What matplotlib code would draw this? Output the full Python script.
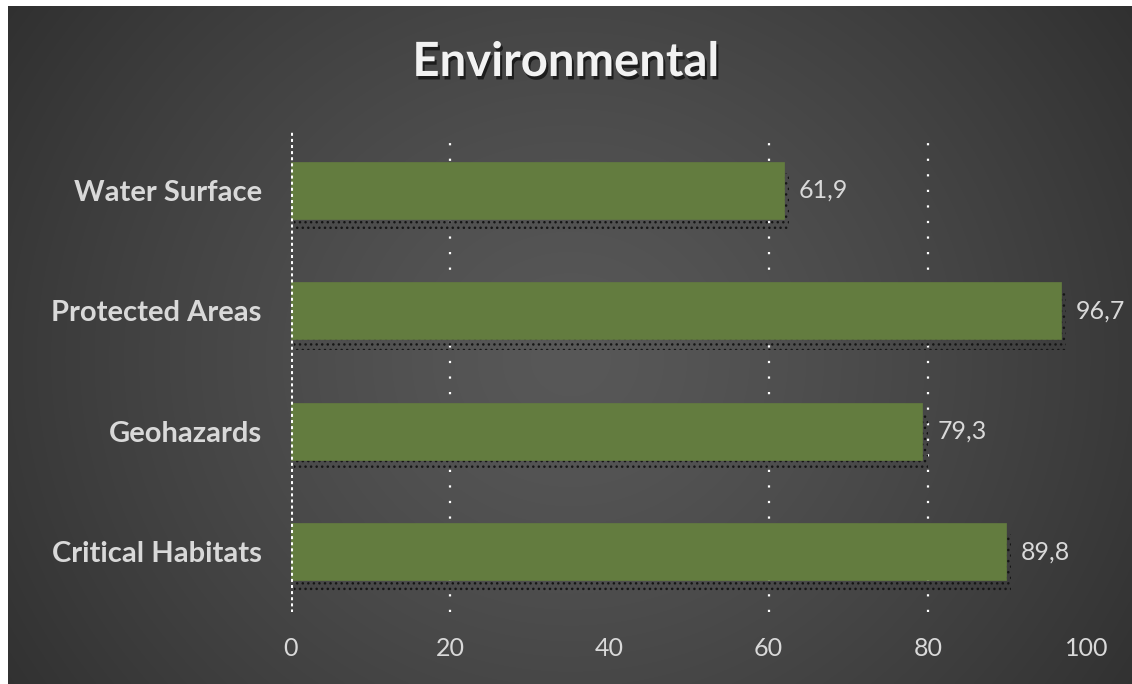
import numpy as np
import matplotlib
matplotlib.use("Agg")
import matplotlib.pyplot as plt
import matplotlib.patheffects as pe

categories = ["Critical Habitats", "Geohazards", "Protected Areas", "Water Surface"]
values = [89.8, 79.3, 96.7, 61.9]
xticks = [0, 20, 40, 60, 80, 100]
gridlines = [20, 60, 80]
title = "Environmental"

W, H = 1132, 684
fig = plt.figure(figsize=(W / 100, H / 100), dpi=100)
fig.patch.set_facecolor("white")

# background radial gradient
bg = fig.add_axes([8 / W, 0, 1 - 8 / W, 1 - 6 / H])
bg.set_axis_off()
ny, nx = 400, 660
yy, xx = np.mgrid[0:ny, 0:nx]
cx, cy = nx * 0.50, ny * 0.52
r = np.sqrt(((xx - cx) / (nx * 0.62)) ** 2 + ((yy - cy) / (ny * 0.95)) ** 2)
r = np.clip(r, 0, 1)
c_in, c_out = 0x58, 0x2f
g = (c_in + (c_out - c_in) * r ** 1.3) / 255.0
img = np.dstack([g, g, g])
bg.imshow(img, aspect="auto", extent=[0, 1, 0, 1], interpolation="bilinear")
bg.set_xlim(0, 1)
bg.set_ylim(0, 1)

ax = fig.add_axes([291 / W, 72 / H, (1087 - 291) / W, 482 / H])
ax.patch.set_alpha(0)
for s in ax.spines.values():
    s.set_visible(False)

ypos = np.arange(len(categories))
bh = 0.47
shadow_off = 0.09

# shadow
ax.barh(ypos - shadow_off, [v + 0.3 for v in values], height=bh, left=0.4,
        color="none", edgecolor="#151515", hatch="...", linewidth=0, zorder=2)
ax.barh(ypos, values, height=bh, color="#637C3F", edgecolor="#637C3F",
        linewidth=0.5, zorder=3)

for gx in gridlines:
    ax.axvline(gx, color="white", linestyle=(0, (1, 6)), linewidth=1.6, zorder=1)
ax.axvline(0, color="white", linestyle=(0, (1, 1)), linewidth=2.2, zorder=4)

for y, v in zip(ypos, values):
    ax.annotate(f"{v:.1f}".replace(".", ","), xy=(v, y), xytext=(11, 0),
                textcoords="offset points", va="center", ha="left",
                fontsize=18, color="#D9D9D9", family="Lato")

ax.set_xlim(0, 100)
ax.set_ylim(-0.5, len(categories) - 0.5)
ax.set_xticks(xticks)
ax.set_xticklabels([str(t) for t in xticks], fontsize=18, color="#D9D9D9", family="Lato")
ax.set_yticks(ypos)
ax.set_yticklabels(categories, fontsize=21, color="#D9D9D9", family="Lato", fontweight="bold")
ax.tick_params(axis="both", length=0)
ax.tick_params(axis="x", pad=18)
ax.tick_params(axis="y", pad=21)

fig.text(0.5, 1 - 62 / H, title, ha="center", va="center", fontsize=34,
         fontweight="bold", color="#F2F2F2", family="Lato",
         path_effects=[pe.SimplePatchShadow(offset=(1.5, -2.5), shadow_rgbFace="black", alpha=0.6), pe.Normal()])

fig.savefig("out.png", dpi=100, facecolor=fig.get_facecolor())
